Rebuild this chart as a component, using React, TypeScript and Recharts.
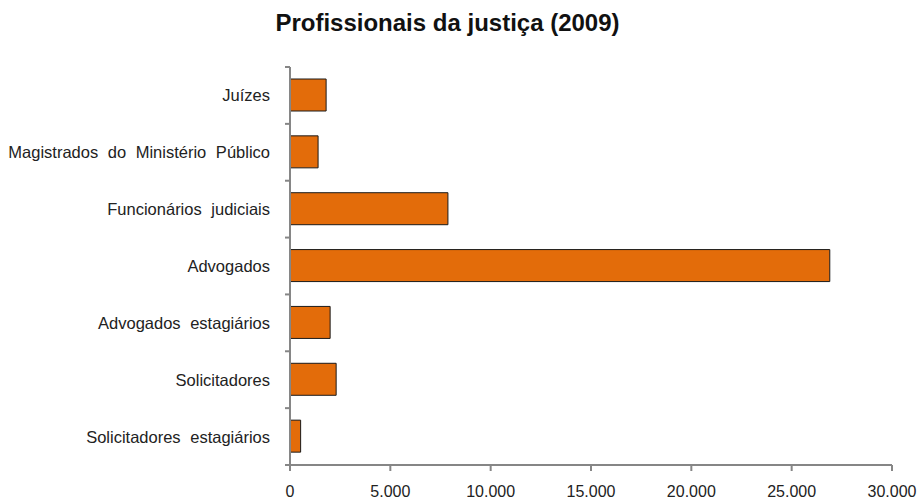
import { Bar, BarChart, XAxis, YAxis } from "recharts";

const categories = [
  "Juízes",
  "Magistrados do Ministério Público",
  "Funcionários judiciais",
  "Advogados",
  "Advogados estagiários",
  "Solicitadores",
  "Solicitadores estagiários",
];
const counts = [1800, 1400, 7870, 26900, 2000, 2300, 530];
const xTicks = [0, 5000, 10000, 15000, 20000, 25000, 30000];

const chartData = categories.map((name, i) => ({ name, value: counts[i] }));

const axisColor = "#868686";
const font = "'Liberation Sans', Arial, sans-serif";
const PLOT_TOP = 67;
const PLOT_BOTTOM = 465;
const LABEL_GAP = 20;
const band = (PLOT_BOTTOM - PLOT_TOP) / categories.length;

const fmt = (v: number) => String(v).replace(/\B(?=(\d{3})+(?!\d))/g, ".");

// labels at band centres, tick marks on the band boundaries
function CategoryTick(props: any) {
  const { x, y, payload, index } = props;
  const axisX = x + LABEL_GAP;
  return (
    <g>
      <text
        x={x}
        y={y}
        dy={6}
        textAnchor="end"
        fontSize={16.5}
        fill="#222"
        fontFamily={font}
        style={{ wordSpacing: 5 }}
      >
        {payload.value}
      </text>
      <line x1={axisX - 5} x2={axisX} y1={y - band / 2} y2={y - band / 2} stroke={axisColor} strokeWidth={2} />
      {index === categories.length - 1 && (
        <line x1={axisX - 5} x2={axisX} y1={y + band / 2} y2={y + band / 2} stroke={axisColor} strokeWidth={2} />
      )}
    </g>
  );
}

export default function App() {
  return (
    <div style={{ position: "relative", width: 921, height: 502 }}>
      <style>{`body{margin:0}`}</style>
      <div
        style={{
          position: "absolute",
          top: 9,
          left: 0,
          width: 895,
          textAlign: "center",
          fontFamily: font,
          fontWeight: "bold",
          fontSize: 24,
          color: "#111",
        }}
      >
        Profissionais da justiça (2009)
      </div>
      <BarChart
        width={921}
        height={502}
        data={chartData}
        layout="vertical"
        margin={{ top: PLOT_TOP, right: 29, bottom: 7, left: 0 }}
        barCategoryGap={0}
      >
        <XAxis
          type="number"
          domain={[0, 30000]}
          ticks={xTicks}
          tickFormatter={fmt}
          height={30}
          stroke={axisColor}
          strokeWidth={2}
          tickSize={6}
          tickMargin={15}
          tick={{ fill: "#222", fontSize: 16, fontFamily: font }}
        />
        <YAxis
          type="category"
          dataKey="name"
          width={290}
          stroke={axisColor}
          strokeWidth={2}
          tickLine={false}
          tickSize={0}
          tickMargin={LABEL_GAP}
          tick={<CategoryTick />}
          interval={0}
        />
        <Bar
          dataKey="value"
          fill="#E36C0A"
          stroke="#1a1a1a"
          strokeWidth={1}
          barSize={32}
          isAnimationActive={false}
        />
      </BarChart>
    </div>
  );
}
